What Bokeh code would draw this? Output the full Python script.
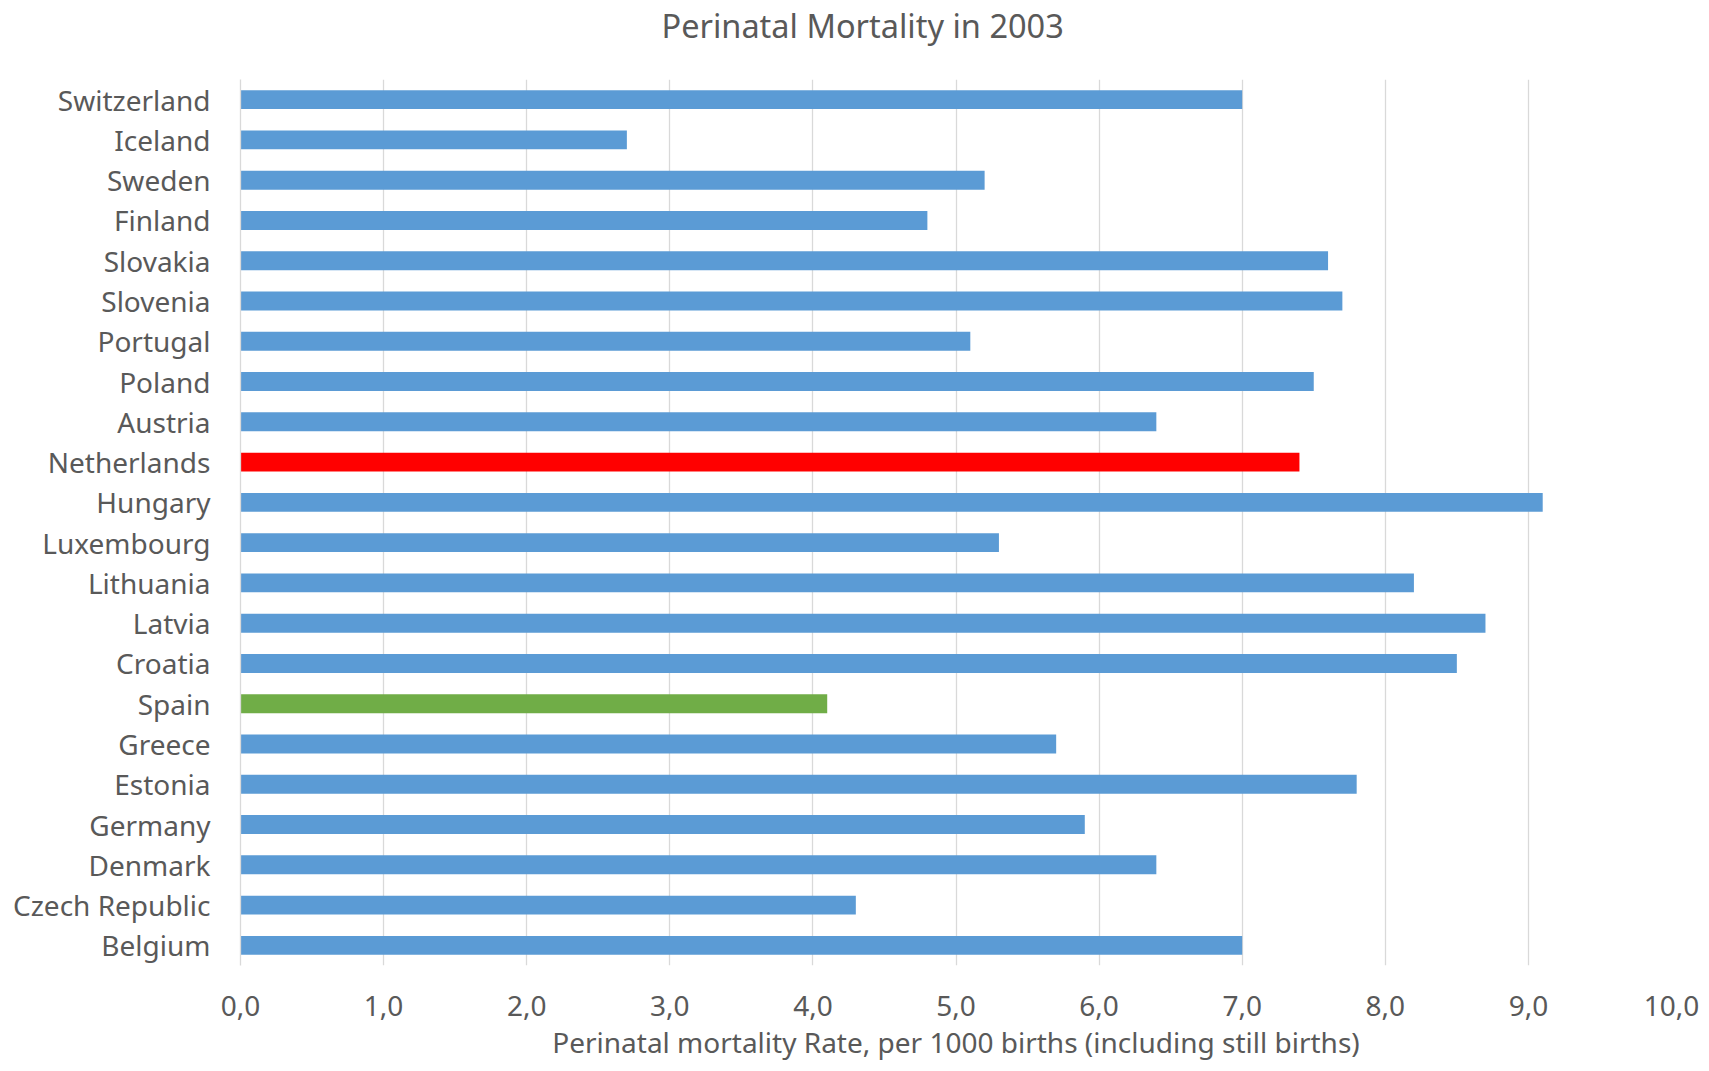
from bokeh.plotting import figure
from bokeh.models import FactorRange, Title
from bokeh.embed import file_html
from bokeh.resources import INLINE

# Data (top to bottom as shown in the chart)
countries = ["Switzerland", "Iceland", "Sweden", "Finland", "Slovakia", "Slovenia",
             "Portugal", "Poland", "Austria", "Netherlands", "Hungary", "Luxembourg",
             "Lithuania", "Latvia", "Croatia", "Spain", "Greece", "Estonia",
             "Germany", "Denmark", "Czech Republic", "Belgium"]
rates = [7.0, 2.7, 5.2, 4.8, 7.6, 7.7, 5.1, 7.5, 6.4, 7.4, 9.1, 5.3,
         8.2, 8.7, 8.5, 4.1, 5.7, 7.8, 5.9, 6.4, 4.3, 7.0]
highlight = {"Netherlands": "#FF0000", "Spain": "#70AD47"}
base_color = "#5B9BD5"

x_ticks = [0, 1, 2, 3, 4, 5, 6, 7, 8, 9, 10]
x_tick_labels = ["0,0", "1,0", "2,0", "3,0", "4,0", "5,0", "6,0", "7,0", "8,0", "9,0", "10,0"]

title_text = "Perinatal Mortality in 2003"
x_label = "Perinatal mortality Rate, per 1000 births (including still births)"

FONT = "Noto Sans"
TXT = "#595959"

factors = list(reversed(countries))
colors = [highlight.get(c, base_color) for c in countries]

p = figure(width=1701, height=1063, output_backend="svg", toolbar_location=None,
           y_range=FactorRange(factors=factors, range_padding=0),
           x_range=(0, 10),
           min_border_left=240, min_border_right=30, min_border_top=78,
           min_border_bottom=97)

p.hbar(y=countries, right=rates, left=0, height=0.47, fill_color=colors, line_color=None)

t = Title(text=title_text, align="left", offset=421,
          text_font=FONT, text_font_size="32.5px", text_color=TXT,
          text_font_style="normal", standoff=0,
          padding=dict(top=0, right=0, bottom=32, left=0))
p.add_layout(t, "above")

p.outline_line_color = None
p.ygrid.grid_line_color = None
p.xgrid.grid_line_color = "#D9D9D9"
p.xgrid.grid_line_width = 1.3
p.xaxis.ticker = x_ticks
p.xaxis.major_label_overrides = {k: v for k, v in zip(x_ticks, x_tick_labels)}
p.xaxis.axis_line_color = None
p.xaxis.major_tick_line_color = None
p.xaxis.minor_tick_line_color = None
p.xaxis.major_tick_out = 0
p.xaxis.major_label_standoff = 30
p.xaxis.major_label_text_font = FONT
p.xaxis.major_label_text_font_size = "28px"
p.xaxis.major_label_text_color = TXT
p.xaxis.axis_label = x_label
p.xaxis.axis_label_text_font = FONT
p.xaxis.axis_label_text_font_size = "28px"
p.xaxis.axis_label_text_font_style = "normal"
p.xaxis.axis_label_text_color = TXT
p.xaxis.axis_label_text_baseline = "middle"
p.xaxis.axis_label_standoff = 4

p.yaxis.axis_line_color = "#D9D9D9"
p.yaxis.axis_line_width = 1.3
p.yaxis.major_tick_line_color = None
p.yaxis.major_tick_out = 0
p.yaxis.major_label_standoff = 30
p.yaxis.major_label_text_font = FONT
p.yaxis.major_label_text_font_size = "28px"
p.yaxis.major_label_text_color = TXT

open("out.html", "w").write(file_html(p, INLINE))
